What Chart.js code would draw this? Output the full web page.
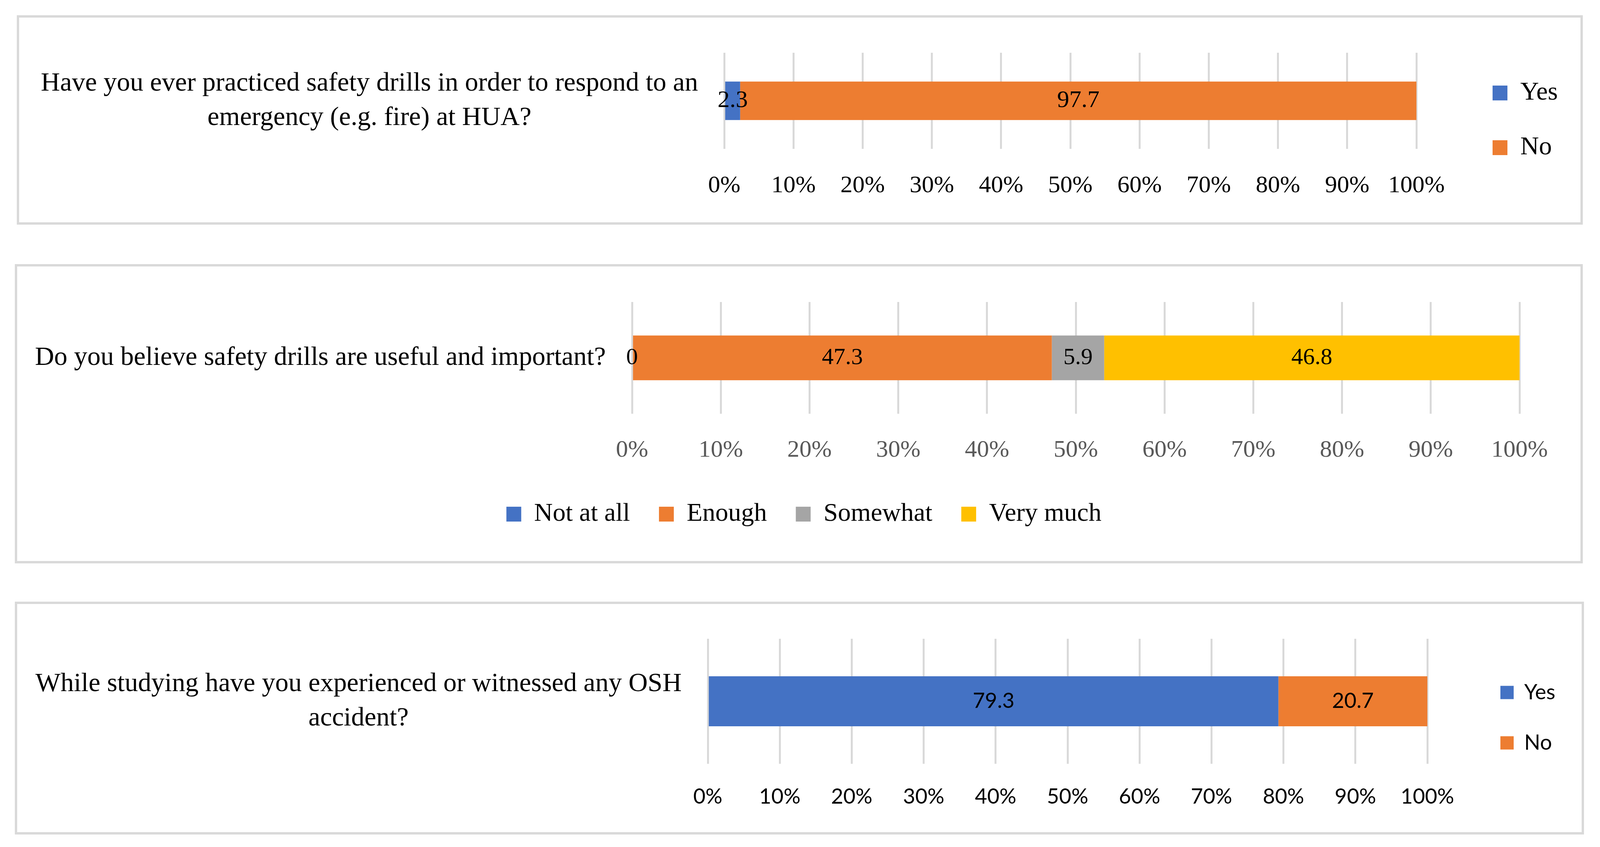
<!DOCTYPE html>
<html>
<head>
<meta charset="utf-8">
<title>Safety drills survey</title>
<script src="https://cdn.jsdelivr.net/npm/chart.js@4.4.1/dist/chart.umd.min.js"></script>
<style>
  html, body { margin: 0; padding: 0; background: #fff; overflow: hidden; }
  #page { height: 2168px; position: relative; }
  .panel { position: absolute; border: 6px solid #d9d9d9; box-sizing: border-box; background: #fff; }
  .panel canvas { position: absolute; left: 0; top: 0; }
</style>
</head>
<body>
<div id="page">
  <div class="panel" id="drillsBox"><canvas id="drills"></canvas></div>
  <div class="panel" id="usefulBox"><canvas id="useful"></canvas></div>
  <div class="panel" id="accidentBox"><canvas id="accident"></canvas></div>
</div>
<script>
// questions (category labels, one per chart, split in lines)
const drillQuestion = ['Have you ever practiced safety drills in order to respond to an', 'emergency (e.g. fire) at HUA?'];
const usefulQuestion = ['Do you believe safety drills are useful and important?'];
const accidentQuestion = ['While studying have you experienced or witnessed any OSH', 'accident?'];

// answers and percentages
const yesNoLabels = ['Yes', 'No'];
const opinionLabels = ['Not at all', 'Enough', 'Somewhat', 'Very much'];
const drillValues = [2.3, 97.7];
const usefulValues = [0, 47.3, 5.9, 46.8];
const accidentValues = [79.3, 20.7];

// x axis ticks
const percentTicks = [0, 10, 20, 30, 40, 50, 60, 70, 80, 90, 100];

const SERIF = '"Liberation Serif", "Times New Roman", serif';
const SANS = 'Lato, "Noto Sans", sans-serif';
const COLORS = ['#4472C4', '#ED7D31', '#A5A5A5', '#FFC000'];
const GRID = '#D9D9D9';

// layout is measured on a 4432 px wide figure; squeeze it sideways if the window is narrower
const KX = Math.min(1, window.innerWidth / 4432);
const sx = v => Math.round(v * KX);
document.getElementById('page').style.width = sx(4432) + 'px';

const boxes = {
  drills: { left: 46, top: 39, width: 4338, height: 536 },
  useful: { left: 41, top: 676, width: 4343, height: 766 },
  accident: { left: 41, top: 1540, width: 4346, height: 596 }
};

function placePanel(id) {
  const b = boxes[id];
  const div = document.getElementById(id + 'Box');
  div.style.left = sx(b.left) + 'px';
  div.style.top = b.top + 'px';
  div.style.width = sx(b.width) + 'px';
  div.style.height = b.height + 'px';
  const cv = document.getElementById(id);
  cv.width = sx(b.width) - 12;
  cv.height = b.height - 12;
  return cv;
}

const measure = document.createElement('canvas').getContext('2d');
function legendWidth(font, box, pad, names) {
  measure.font = font.size + 'px ' + font.family;
  const widest = Math.max(...names.map(n => measure.measureText(n).width));
  return pad + box + font.size / 2 + widest + 10;
}

// writes the value in the middle of each bar segment
const barValues = {
  id: 'barValues',
  afterDatasetsDraw(chart, args, opts) {
    const ctx = chart.ctx;
    ctx.save();
    ctx.font = opts.font;
    ctx.fillStyle = opts.color || '#000';
    ctx.textAlign = 'center';
    ctx.textBaseline = 'middle';
    chart.data.datasets.forEach((ds, i) => {
      chart.getDatasetMeta(i).data.forEach((bar, j) => {
        const p = bar.getCenterPoint();
        ctx.fillText(String(ds.data[j]), p.x, p.y);
      });
    });
    ctx.restore();
  }
};

// moves the legend: side legends get boxes at x and items centred on cy,
// any legend can be slid sideways by dx
const legendAt = {
  id: 'legendAt',
  afterLayout(chart, args, opts) {
    const lg = chart.legend;
    if (!opts) return;
    const w = lg.right - lg.left;
    if (opts.x != null) {
      lg.left = opts.x - lg.options.labels.padding;
      lg.right = lg.left + w;
    }
    if (opts.dx) {
      lg.left += opts.dx;
      lg.right += opts.dx;
    }
    if (opts.cy != null) {
      const h = lg.bottom - lg.top;
      lg.top = opts.cy - h / 2;
      lg.bottom = lg.top + h;
    }
  }
};

function stackedBar(id, question, names, values, s) {
  const canvas = placePanel(id);
  return new Chart(canvas, {
    type: 'bar',
    data: {
      labels: [question],
      datasets: names.map((name, i) => ({
        label: name,
        data: [values[i]],
        backgroundColor: COLORS[i],
        barPercentage: 0.4,
        categoryPercentage: 1
      }))
    },
    plugins: [barValues, legendAt],
    options: {
      indexAxis: 'y',
      responsive: false,
      animation: false,
      devicePixelRatio: 1,
      events: [],
      layout: { padding: s.padding },
      scales: {
        x: {
          stacked: true,
          min: 0,
          max: 100,
          grid: { color: GRID, lineWidth: 5, drawTicks: false },
          border: { display: false },
          ticks: {
            autoSkip: false,
            maxRotation: 0,
            padding: s.tickPad,
            color: s.tickColor,
            font: s.tickFont,
            callback: v => v + '%'
          },
          afterBuildTicks: sc => { sc.ticks = percentTicks.map(v => ({ value: v })); },
          afterFit: sc => { sc.height = s.xHeight; }
        },
        y: {
          stacked: true,
          grid: { display: false, drawTicks: false },
          border: { display: false },
          ticks: {
            crossAlign: 'center',
            padding: sx(72),
            color: '#000',
            font: { family: SERIF, size: 68, lineHeight: 1.294 }
          },
          afterFit: sc => {
            sc.width = s.yWidth;
            sc.paddingTop = 0;
            sc.paddingBottom = 0;
          }
        }
      },
      plugins: {
        legend: {
          position: s.legendPos,
          labels: {
            boxWidth: s.box,
            boxHeight: s.box,
            padding: s.legendPad,
            color: '#000',
            font: s.legendFont
          }
        },
        legendAt: s.legendAt,
        barValues: { font: s.valueFont, color: '#000' },
        tooltip: { enabled: false }
      }
    }
  });
}

// 1: practiced drills, legend on the right
const drillLegendFont = { family: SERIF, size: 66 };
stackedBar('drills', drillQuestion, yesNoLabels, drillValues, {
  padding: {
    top: 90, bottom: 52, left: 0,
    right: sx(4326) - sx(3871) - legendWidth(drillLegendFont, 38, 74, yesNoLabels)
  },
  yWidth: sx(1953),
  xHeight: 136,
  tickPad: 58,
  tickColor: '#000',
  tickFont: { family: SERIF, size: 62 },
  legendPos: 'right',
  box: 38,
  legendPad: 74,
  legendFont: drillLegendFont,
  legendAt: { x: sx(4081), cy: 263 },
  valueFont: '62px ' + SERIF
});

// 2: usefulness, legend underneath
const usefulLegendTop = 634 - 74 - 33;
stackedBar('useful', usefulQuestion, opinionLabels, usefulValues, {
  padding: { top: 91, bottom: 754 - (usefulLegendTop + 66 + 74 + 10), left: 0, right: sx(4331) - sx(4163) },
  yWidth: sx(1703),
  xHeight: usefulLegendTop - 377,
  tickPad: 57,
  tickColor: '#595959',
  tickFont: { family: SERIF, size: 62 },
  legendPos: 'bottom',
  box: 38,
  legendPad: 74,
  legendFont: { family: SERIF, size: 66 },
  legendAt: { dx: sx(98) },
  valueFont: '60px ' + SERIF
});

// 3: accidents, legend on the right
const accidentLegendFont = { family: SANS, size: 54 };
stackedBar('accident', accidentQuestion, yesNoLabels, accidentValues, {
  padding: {
    top: 89, bottom: 55, left: 0,
    right: sx(4334) - sx(3906) - legendWidth(accidentLegendFont, 34, 75, yesNoLabels)
  },
  yWidth: sx(1913),
  xHeight: 120,
  tickPad: 52,
  tickColor: '#000',
  tickFont: { family: SANS, size: 54 },
  legendPos: 'right',
  box: 34,
  legendPad: 75,
  legendFont: accidentLegendFont,
  legendAt: { x: sx(4109), cy: 291 },
  valueFont: '54px ' + SANS
});
</script>
</body>
</html>
